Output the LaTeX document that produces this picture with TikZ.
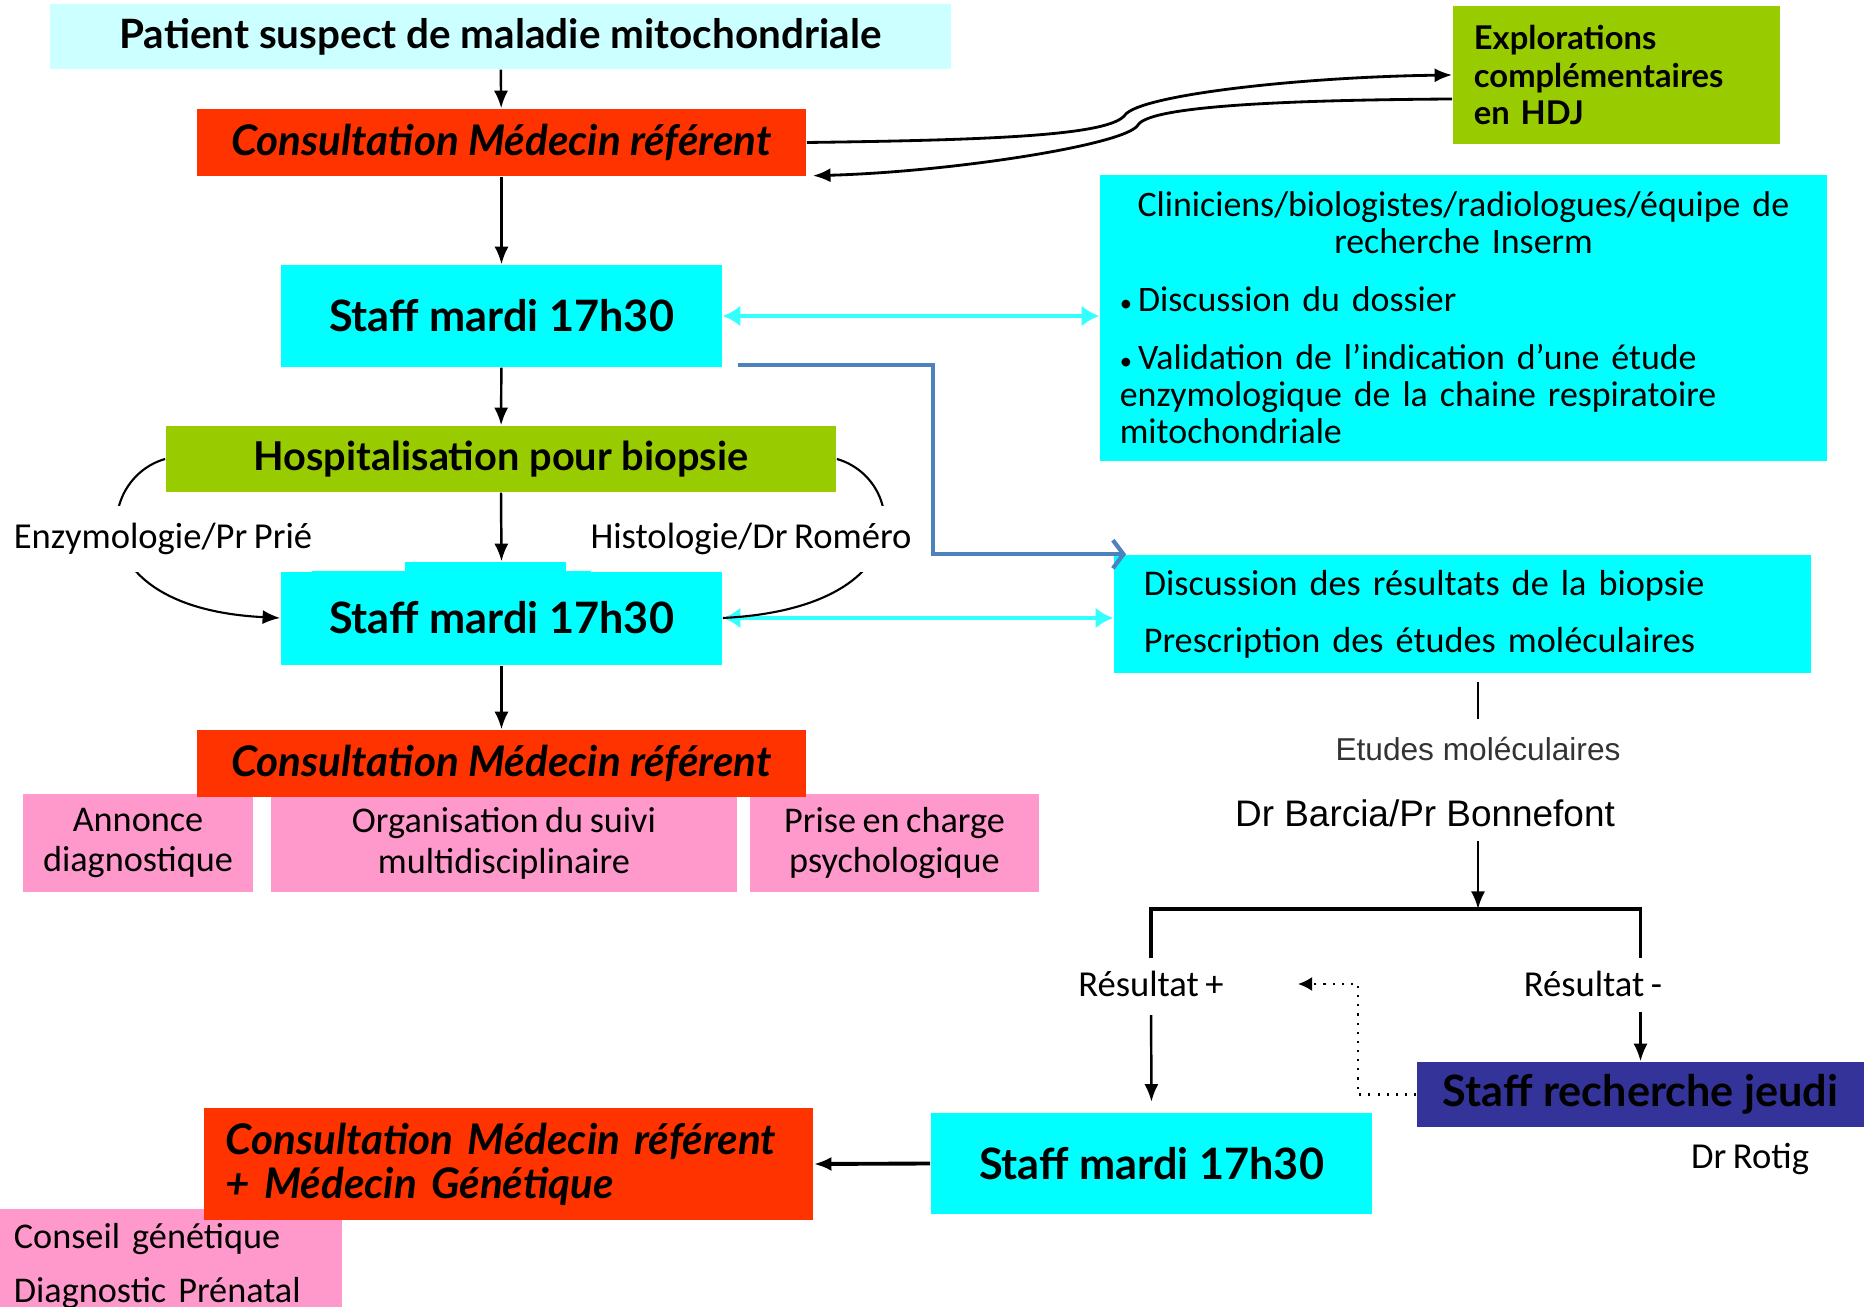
\documentclass[tikz,border=0pt]{standalone}
\usepackage{fontspec}
\setmainfont{Carlito}[WordSpace=0.8]
\newfontfamily\headfont{Lato}
\newfontfamily\arialfont{Liberation Sans}
\usetikzlibrary{arrows.meta,calc}
\definecolor{titlecyan}{HTML}{CCFFFF}
\definecolor{staffcyan}{HTML}{00FFFF}
\definecolor{consred}{HTML}{FF3300}
\definecolor{hospgreen}{HTML}{99CC00}
\definecolor{notepink}{HTML}{FF99CC}
\definecolor{jeudiblue}{HTML}{333399}
\definecolor{elbowblue}{HTML}{4F81BD}
\definecolor{linkcyan}{HTML}{33FFFF}
\newcommand{\smallbullet}{{\fontsize{7}{7}\selectfont•}\,}

\begin{document}
\begin{tikzpicture}[x=0.01cm, y=-0.01cm,
    head/.style={font=\headfont\bfseries\fontsize{12.3}{14}\selectfont, inner sep=0pt},
    headit/.style={head, font=\headfont\bfseries\itshape\fontsize{12}{12.5}\selectfont},
    plain/.style={font=\fontsize{10.4}{12}\selectfont, inner sep=0pt},
    note/.style={font=\fontsize{10.3}{11.6}\selectfont, inner sep=0pt, fill=notepink, align=center},
    flow/.style={-{Latex[length=5pt,width=4pt]}, line width=0.7pt},
    link/.style={{Latex[length=5pt,width=6pt]}-{Latex[length=5pt,width=6pt]}, linkcyan, line width=1.2pt},
    elbow/.style={-{Straight Barb[length=3pt,width=8pt]}, elbowblue, line width=1.2pt},
  ]
  \useasboundingbox (0,0) rectangle (1864,1307);

  \node[head, fill=titlecyan, minimum width=9.01cm, minimum height=0.65cm,
        font=\headfont\bfseries\fontsize{11.5}{13}\selectfont] (patient) at (500.5,36.5) {Patient suspect de maladie mitochondriale};
  \node[headit, fill=consred, minimum width=6.09cm, minimum height=0.67cm] (consult) at (501.5,142.5) {Consultation Médecin référent};
  \node[head, fill=hospgreen, minimum width=3.27cm, minimum height=1.38cm, text width=2.85cm, align=left,
        font=\headfont\bfseries\fontsize{9.3}{10.8}\selectfont] (explo) at (1616.5,75) {Explorations\\complémentaires\\en HDJ};
  \node[head, fill=staffcyan, minimum width=4.41cm, minimum height=1.02cm] (staffA) at (501.5,316) {Staff mardi 17h30};
  \node[inner sep=0pt, fill=staffcyan, minimum width=7.27cm, minimum height=2.86cm, text width=6.87cm, align=left,
        font=\fontsize{10.2}{10.5}\selectfont] (info) at (1463.5,318)
        {{\centering Cliniciens/biologistes/radiologues/équipe de\\recherche Inserm\par}
         \vspace{6pt}\smallbullet Discussion du dossier\par
         \vspace{6pt}\smallbullet Validation de l’indication d’une étude\\enzymologique de la chaine respiratoire\\mitochondriale};
  \node[head, fill=hospgreen, minimum width=6.7cm, minimum height=0.66cm,
        font=\headfont\bfseries\fontsize{11.3}{13}\selectfont] (hosp) at (501,459) {Hospitalisation pour biopsie};

  \fill[staffcyan] (405,562) rectangle (566,575);
  \node[head, fill=staffcyan, minimum width=4.41cm, minimum height=0.94cm] (staffB) at (501.5,618) {Staff mardi 17h30};
  \node[inner sep=0pt, fill=staffcyan, minimum width=6.97cm, minimum height=1.18cm, text width=6.37cm, align=left,
        font=\fontsize{10.3}{16.2}\selectfont] (disc) at (1462.5,614)
        {Discussion des résultats de la biopsie\\Prescription des études moléculaires};

  \node[note, minimum width=2.3cm, minimum height=0.98cm] (annonce) at (138,843) {Annonce\\diagnostique};
  \node[note, minimum width=4.66cm, minimum height=0.98cm] (suivi) at (504,843) {Organisation du suivi\\multidisciplinaire};
  \node[note, minimum width=2.89cm, minimum height=0.98cm] (psy) at (894.5,843) {Prise en charge\\psychologique};
  \node[headit, fill=consred, minimum width=6.09cm, minimum height=0.67cm] (consultB) at (501.5,763.5) {Consultation Médecin référent};

  \node[font=\arialfont\fontsize{9}{11}\selectfont, text=black!80, inner sep=0pt] (etudes) at (1478,749) {Etudes moléculaires};
  \node[font=\arialfont\fontsize{10.5}{12}\selectfont, inner sep=0pt] (barcia) at (1425,813) {Dr Barcia/Pr Bonnefont};
  \coordinate (fork) at (1478,909);
  \node[plain] (resplus) at (1151,984) {Résultat +};
  \node[plain] (resminus) at (1593,984) {Résultat -};
  \node[head, fill=jeudiblue, minimum width=4.47cm, minimum height=0.65cm] (jeudi) at (1640.5,1094.5) {Staff recherche jeudi};
  \node[plain] (rotig) at (1750,1159) {Dr Rotig};
  \node[head, fill=staffcyan, minimum width=4.41cm, minimum height=1.01cm] (staffC) at (1151.5,1163.5) {Staff mardi 17h30};

  \node[inner sep=0pt, fill=notepink, minimum width=3.42cm, minimum height=1.14cm, text width=3.14cm, align=left,
        font=\fontsize{10.3}{15.6}\selectfont] (conseil) at (171,1266) {Conseil génétique\\Diagnostic Prénatal};
  \node[headit, fill=consred, minimum width=6.09cm, minimum height=1.12cm, text width=5.65cm, align=left] (consultC) at (508.5,1164)
        {Consultation Médecin référent\\+ Médecin Génétique};

  % colonne principale
  \draw[flow] (patient) -- (consult);
  \draw[flow] (consult) -- (staffA);
  \draw[flow] (staffA) -- (hosp);
  \draw[flow] (hosp.south) -- ($(staffB.north)+(0,-9)$);
  \draw[flow] (staffB) -- (consultB);

  \draw[flow, line width=0.8pt] (consult.east) .. controls (1000,140) and (1110,135) .. (1125,115)
        .. controls (1140,95) and (1300,77) .. (explo.west);
  \draw[flow, line width=0.8pt] ($(explo.west)+(0,24)$) .. controls (1300,100) and (1150,105) .. (1138,125)
        .. controls (1126,145) and (950,172) .. ($(consult.south east)+(6,-1)$);

  \draw[link] (staffA.east) -- (staffA.east -| info.west);
  \draw[link] (staffB.east) -- (staffB.east -| disc.west);
  \draw[elbow] ($(staffA.south east)+(15,-3)$) -| ($(disc.north west)+(-180,0)$) -- ($(disc.north west)+(13,0)$);

  \draw[flow, line width=0.6pt] (hosp.west) .. controls +(-70,20) and +(-200,-10) .. (staffB.west);
  \draw[line width=0.6pt] (hosp.east) .. controls +(70,20) and +(200,-10) .. (staffB.east);
  \node[plain, fill=white, minimum height=0.66cm] (enzymo) at (163,539) {Enzymologie/Pr Prié};
  \node[plain, fill=white, minimum height=0.66cm] (histo) at (751,539) {Histologie/Dr Roméro};

  % etudes moleculaires
  \draw[line width=0.8pt, shorten <=2.3pt, shorten >=5pt] (disc.south -| etudes) -- (etudes.north);
  \draw[flow, shorten <=4pt] (barcia.south -| fork) -- (fork);
  \draw[line width=1.1pt] ($(resplus.north)+(0,-12)$) |- (fork) -| ($(jeudi.north |- resminus.north)+(0,-12)$);
  \draw[flow, shorten <=5pt, shorten >=3pt] (resplus.south) -- (staffC.north);
  \draw[flow, shorten <=4pt] (jeudi.north |- resminus.south) -- (jeudi.north);
  \coordinate (backtip) at (1298,984);
  \draw[dotted, -{Latex[length=4pt,width=4pt]}, line width=0.6pt] (jeudi.west) -| ($(backtip)+(60,0)$) -- (backtip);
  \draw[flow, line width=1.1pt] (staffC.west) -- (consultC.east);
\end{tikzpicture}
\end{document}
